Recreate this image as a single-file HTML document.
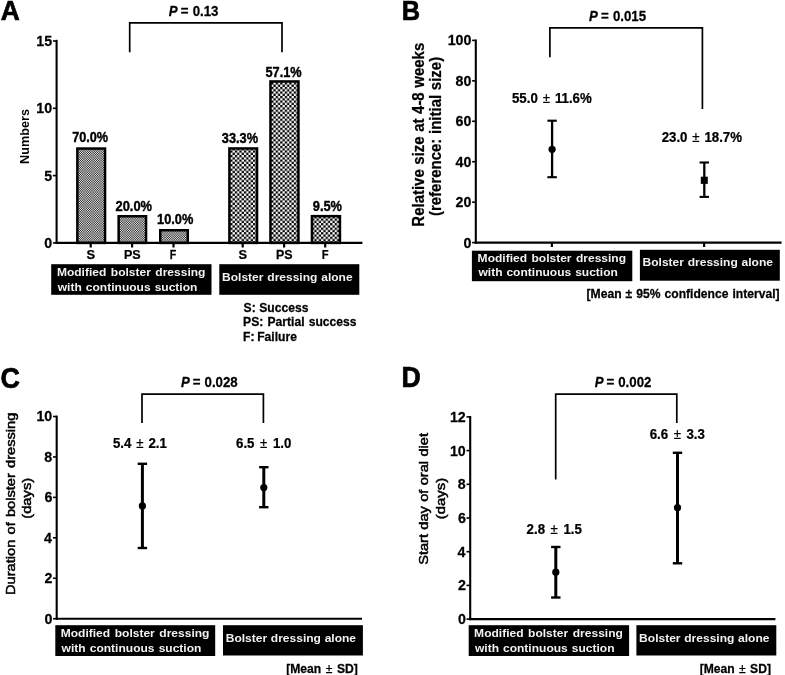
<!DOCTYPE html>
<html><head><meta charset="utf-8"><title>Figure</title>
<style>
html,body{margin:0;padding:0;background:#fff;}
body{width:785px;height:675px;overflow:hidden;font-family:"Liberation Sans",sans-serif;}
svg{display:block;will-change:transform;}
svg text{font-family:"Liberation Sans",sans-serif;font-weight:bold;white-space:pre;}
</style></head><body>
<svg width="785" height="675" viewBox="0 0 785 675">
<defs>
<pattern id="pa" width="16" height="7" patternUnits="userSpaceOnUse" shape-rendering="crispEdges"><rect width="16" height="7" fill="#888"/><rect x="0" y="0" width="1" height="1" fill="#e0e0e0"/><rect x="1" y="0" width="1" height="1" fill="#383838"/><rect x="2" y="0" width="1" height="1" fill="#cbcbcb"/><rect x="3" y="0" width="1" height="1" fill="#636363"/><rect x="4" y="0" width="1" height="1" fill="#919191"/><rect x="5" y="0" width="1" height="1" fill="#a5a5a5"/><rect x="6" y="0" width="1" height="1" fill="#525252"/><rect x="7" y="0" width="1" height="1" fill="#d6d6d6"/><rect x="8" y="0" width="1" height="1" fill="#343434"/><rect x="9" y="0" width="1" height="1" fill="#dcdcdc"/><rect x="10" y="0" width="1" height="1" fill="#494949"/><rect x="11" y="0" width="1" height="1" fill="#b1b1b1"/><rect x="12" y="0" width="1" height="1" fill="#838383"/><rect x="13" y="0" width="1" height="1" fill="#6f6f6f"/><rect x="14" y="0" width="1" height="1" fill="#c2c2c2"/><rect x="15" y="0" width="1" height="1" fill="#3e3e3e"/><rect x="0" y="1" width="1" height="1" fill="#535353"/><rect x="1" y="1" width="1" height="1" fill="#bebebe"/><rect x="2" y="1" width="1" height="1" fill="#606060"/><rect x="3" y="1" width="1" height="1" fill="#a3a3a3"/><rect x="4" y="1" width="1" height="1" fill="#868686"/><rect x="5" y="1" width="1" height="1" fill="#797979"/><rect x="6" y="1" width="1" height="1" fill="#aeaeae"/><rect x="7" y="1" width="1" height="1" fill="#595959"/><rect x="8" y="1" width="1" height="1" fill="#c1c1c1"/><rect x="9" y="1" width="1" height="1" fill="#565656"/><rect x="10" y="1" width="1" height="1" fill="#b4b4b4"/><rect x="11" y="1" width="1" height="1" fill="#717171"/><rect x="12" y="1" width="1" height="1" fill="#8e8e8e"/><rect x="13" y="1" width="1" height="1" fill="#9b9b9b"/><rect x="14" y="1" width="1" height="1" fill="#666666"/><rect x="15" y="1" width="1" height="1" fill="#bbbbbb"/><rect x="0" y="2" width="1" height="1" fill="#979797"/><rect x="1" y="2" width="1" height="1" fill="#7d7d7d"/><rect x="2" y="2" width="1" height="1" fill="#949494"/><rect x="3" y="2" width="1" height="1" fill="#848484"/><rect x="4" y="2" width="1" height="1" fill="#8b8b8b"/><rect x="5" y="2" width="1" height="1" fill="#8e8e8e"/><rect x="6" y="2" width="1" height="1" fill="#818181"/><rect x="7" y="2" width="1" height="1" fill="#969696"/><rect x="8" y="2" width="1" height="1" fill="#7d7d7d"/><rect x="9" y="2" width="1" height="1" fill="#979797"/><rect x="10" y="2" width="1" height="1" fill="#808080"/><rect x="11" y="2" width="1" height="1" fill="#909090"/><rect x="12" y="2" width="1" height="1" fill="#898989"/><rect x="13" y="2" width="1" height="1" fill="#868686"/><rect x="14" y="2" width="1" height="1" fill="#939393"/><rect x="15" y="2" width="1" height="1" fill="#7e7e7e"/><rect x="0" y="3" width="1" height="1" fill="#a9a9a9"/><rect x="1" y="3" width="1" height="1" fill="#6d6d6d"/><rect x="2" y="3" width="1" height="1" fill="#a1a1a1"/><rect x="3" y="3" width="1" height="1" fill="#7c7c7c"/><rect x="4" y="3" width="1" height="1" fill="#8c8c8c"/><rect x="5" y="3" width="1" height="1" fill="#949494"/><rect x="6" y="3" width="1" height="1" fill="#767676"/><rect x="7" y="3" width="1" height="1" fill="#a6a6a6"/><rect x="8" y="3" width="1" height="1" fill="#6b6b6b"/><rect x="9" y="3" width="1" height="1" fill="#a7a7a7"/><rect x="10" y="3" width="1" height="1" fill="#737373"/><rect x="11" y="3" width="1" height="1" fill="#989898"/><rect x="12" y="3" width="1" height="1" fill="#888888"/><rect x="13" y="3" width="1" height="1" fill="#808080"/><rect x="14" y="3" width="1" height="1" fill="#9e9e9e"/><rect x="15" y="3" width="1" height="1" fill="#6e6e6e"/><rect x="0" y="4" width="1" height="1" fill="#454545"/><rect x="1" y="4" width="1" height="1" fill="#cccccc"/><rect x="2" y="4" width="1" height="1" fill="#555555"/><rect x="3" y="4" width="1" height="1" fill="#a9a9a9"/><rect x="4" y="4" width="1" height="1" fill="#858585"/><rect x="5" y="4" width="1" height="1" fill="#757575"/><rect x="6" y="4" width="1" height="1" fill="#b7b7b7"/><rect x="7" y="4" width="1" height="1" fill="#4c4c4c"/><rect x="8" y="4" width="1" height="1" fill="#cfcfcf"/><rect x="9" y="4" width="1" height="1" fill="#484848"/><rect x="10" y="4" width="1" height="1" fill="#bfbfbf"/><rect x="11" y="4" width="1" height="1" fill="#6b6b6b"/><rect x="12" y="4" width="1" height="1" fill="#8f8f8f"/><rect x="13" y="4" width="1" height="1" fill="#9f9f9f"/><rect x="14" y="4" width="1" height="1" fill="#5d5d5d"/><rect x="15" y="4" width="1" height="1" fill="#c8c8c8"/><rect x="0" y="5" width="1" height="1" fill="#e7e7e7"/><rect x="1" y="5" width="1" height="1" fill="#313131"/><rect x="2" y="5" width="1" height="1" fill="#d1d1d1"/><rect x="3" y="5" width="1" height="1" fill="#5f5f5f"/><rect x="4" y="5" width="1" height="1" fill="#919191"/><rect x="5" y="5" width="1" height="1" fill="#a7a7a7"/><rect x="6" y="5" width="1" height="1" fill="#4d4d4d"/><rect x="7" y="5" width="1" height="1" fill="#dddddd"/><rect x="8" y="5" width="1" height="1" fill="#2d2d2d"/><rect x="9" y="5" width="1" height="1" fill="#e3e3e3"/><rect x="10" y="5" width="1" height="1" fill="#434343"/><rect x="11" y="5" width="1" height="1" fill="#b5b5b5"/><rect x="12" y="5" width="1" height="1" fill="#838383"/><rect x="13" y="5" width="1" height="1" fill="#6d6d6d"/><rect x="14" y="5" width="1" height="1" fill="#c7c7c7"/><rect x="15" y="5" width="1" height="1" fill="#373737"/><rect x="0" y="6" width="1" height="1" fill="#272727"/><rect x="1" y="6" width="1" height="1" fill="#e9e9e9"/><rect x="2" y="6" width="1" height="1" fill="#3e3e3e"/><rect x="3" y="6" width="1" height="1" fill="#b7b7b7"/><rect x="4" y="6" width="1" height="1" fill="#828282"/><rect x="5" y="6" width="1" height="1" fill="#6b6b6b"/><rect x="6" y="6" width="1" height="1" fill="#cbcbcb"/><rect x="7" y="6" width="1" height="1" fill="#313131"/><rect x="8" y="6" width="1" height="1" fill="#ededed"/><rect x="9" y="6" width="1" height="1" fill="#2b2b2b"/><rect x="10" y="6" width="1" height="1" fill="#d6d6d6"/><rect x="11" y="6" width="1" height="1" fill="#5d5d5d"/><rect x="12" y="6" width="1" height="1" fill="#929292"/><rect x="13" y="6" width="1" height="1" fill="#a9a9a9"/><rect x="14" y="6" width="1" height="1" fill="#494949"/><rect x="15" y="6" width="1" height="1" fill="#e3e3e3"/></pattern>
<pattern id="pb" width="4.54" height="4.54" patternUnits="userSpaceOnUse" patternTransform="translate(3.29,0.62)"><rect width="4.54" height="4.54" fill="#fff"/><rect x="0" y="0" width="2.27" height="2.27" fill="#000"/><rect x="2.27" y="2.27" width="2.27" height="2.27" fill="#000"/></pattern>
</defs>
<rect width="785" height="675" fill="#fff"/>
<rect x="77.35" y="148.55" width="27.70" height="94.35" fill="url(#pa)" stroke="#000" stroke-width="2.5"/>
<line x1="90.70" y1="242.90" x2="90.70" y2="247.50" stroke="#000" stroke-width="2.2" stroke-linecap="butt"/>
<rect x="118.65" y="216.25" width="27.40" height="26.65" fill="url(#pa)" stroke="#000" stroke-width="2.5"/>
<line x1="132.10" y1="242.90" x2="132.10" y2="247.50" stroke="#000" stroke-width="2.2" stroke-linecap="butt"/>
<rect x="160.25" y="230.25" width="27.50" height="12.65" fill="url(#pa)" stroke="#000" stroke-width="2.5"/>
<line x1="173.50" y1="242.90" x2="173.50" y2="247.50" stroke="#000" stroke-width="2.2" stroke-linecap="butt"/>
<rect x="229.40" y="148.45" width="27.65" height="94.45" fill="url(#pb)" stroke="#000" stroke-width="2.5"/>
<line x1="242.70" y1="242.90" x2="242.70" y2="247.50" stroke="#000" stroke-width="2.2" stroke-linecap="butt"/>
<rect x="270.45" y="81.45" width="28.00" height="161.45" fill="url(#pb)" stroke="#000" stroke-width="2.5"/>
<line x1="284.10" y1="242.90" x2="284.10" y2="247.50" stroke="#000" stroke-width="2.2" stroke-linecap="butt"/>
<rect x="311.95" y="216.15" width="28.00" height="26.75" fill="url(#pb)" stroke="#000" stroke-width="2.5"/>
<line x1="325.20" y1="242.90" x2="325.20" y2="247.50" stroke="#000" stroke-width="2.2" stroke-linecap="butt"/>
<line x1="56.60" y1="39.80" x2="56.60" y2="243.95" stroke="#000" stroke-width="2.1" stroke-linecap="butt"/>
<line x1="55.55" y1="242.90" x2="362.40" y2="242.90" stroke="#000" stroke-width="2.1" stroke-linecap="butt"/>
<line x1="52.90" y1="242.90" x2="56.60" y2="242.90" stroke="#000" stroke-width="1.6" stroke-linecap="butt"/>
<line x1="52.90" y1="175.60" x2="56.60" y2="175.60" stroke="#000" stroke-width="1.6" stroke-linecap="butt"/>
<line x1="52.90" y1="108.30" x2="56.60" y2="108.30" stroke="#000" stroke-width="1.6" stroke-linecap="butt"/>
<line x1="52.90" y1="41.00" x2="56.60" y2="41.00" stroke="#000" stroke-width="1.6" stroke-linecap="butt"/>
<path d="M129.7,52.3 V22.9 H282.0 V52.3" fill="none" stroke="#000" stroke-width="1.7"/>
<rect x="51.2" y="264.2" width="160.30" height="30.60" fill="#000"/>
<rect x="219.3" y="264.2" width="140.00" height="30.60" fill="#000"/>
<line x1="475.80" y1="39.50" x2="475.80" y2="243.65" stroke="#000" stroke-width="2.1" stroke-linecap="butt"/>
<line x1="474.75" y1="242.60" x2="781.60" y2="242.60" stroke="#000" stroke-width="2.1" stroke-linecap="butt"/>
<line x1="472.10" y1="242.60" x2="475.80" y2="242.60" stroke="#000" stroke-width="1.6" stroke-linecap="butt"/>
<line x1="472.10" y1="202.16" x2="475.80" y2="202.16" stroke="#000" stroke-width="1.6" stroke-linecap="butt"/>
<line x1="472.10" y1="161.72" x2="475.80" y2="161.72" stroke="#000" stroke-width="1.6" stroke-linecap="butt"/>
<line x1="472.10" y1="121.28" x2="475.80" y2="121.28" stroke="#000" stroke-width="1.6" stroke-linecap="butt"/>
<line x1="472.10" y1="80.84" x2="475.80" y2="80.84" stroke="#000" stroke-width="1.6" stroke-linecap="butt"/>
<line x1="472.10" y1="40.40" x2="475.80" y2="40.40" stroke="#000" stroke-width="1.6" stroke-linecap="butt"/>
<line x1="551.90" y1="242.60" x2="551.90" y2="247.00" stroke="#000" stroke-width="2.2" stroke-linecap="butt"/>
<line x1="704.10" y1="242.60" x2="704.10" y2="247.00" stroke="#000" stroke-width="2.2" stroke-linecap="butt"/>
<line x1="552.10" y1="120.70" x2="552.10" y2="177.20" stroke="#000" stroke-width="2.3" stroke-linecap="butt"/>
<line x1="547.40" y1="120.70" x2="556.80" y2="120.70" stroke="#000" stroke-width="2.1" stroke-linecap="butt"/>
<line x1="547.40" y1="177.20" x2="556.80" y2="177.20" stroke="#000" stroke-width="2.1" stroke-linecap="butt"/>
<circle cx="552.1" cy="149.3" r="3.6" fill="#000"/>
<line x1="704.30" y1="162.50" x2="704.30" y2="196.90" stroke="#000" stroke-width="2.3" stroke-linecap="butt"/>
<line x1="699.60" y1="162.50" x2="709.00" y2="162.50" stroke="#000" stroke-width="2.1" stroke-linecap="butt"/>
<line x1="699.60" y1="196.90" x2="709.00" y2="196.90" stroke="#000" stroke-width="2.1" stroke-linecap="butt"/>
<rect x="700.8" y="176.70000000000002" width="7.0" height="7.2" fill="#000"/>
<path d="M549.9,57.3 V27.9 H702.4 V109" fill="none" stroke="#000" stroke-width="1.7"/>
<rect x="471.9" y="250.7" width="160.40" height="30.50" fill="#000"/>
<rect x="639.9" y="249.8" width="139.90" height="30.90" fill="#000"/>
<line x1="56.70" y1="415.60" x2="56.70" y2="619.75" stroke="#000" stroke-width="2.1" stroke-linecap="butt"/>
<line x1="55.65" y1="618.70" x2="362.00" y2="618.70" stroke="#000" stroke-width="2.1" stroke-linecap="butt"/>
<line x1="53.00" y1="618.70" x2="56.70" y2="618.70" stroke="#000" stroke-width="1.6" stroke-linecap="butt"/>
<line x1="53.00" y1="578.26" x2="56.70" y2="578.26" stroke="#000" stroke-width="1.6" stroke-linecap="butt"/>
<line x1="53.00" y1="537.82" x2="56.70" y2="537.82" stroke="#000" stroke-width="1.6" stroke-linecap="butt"/>
<line x1="53.00" y1="497.38" x2="56.70" y2="497.38" stroke="#000" stroke-width="1.6" stroke-linecap="butt"/>
<line x1="53.00" y1="456.94" x2="56.70" y2="456.94" stroke="#000" stroke-width="1.6" stroke-linecap="butt"/>
<line x1="53.00" y1="416.50" x2="56.70" y2="416.50" stroke="#000" stroke-width="1.6" stroke-linecap="butt"/>
<line x1="142.40" y1="463.80" x2="142.40" y2="548.00" stroke="#000" stroke-width="3.0" stroke-linecap="butt"/>
<line x1="137.70" y1="463.80" x2="147.10" y2="463.80" stroke="#000" stroke-width="2.4" stroke-linecap="butt"/>
<line x1="137.70" y1="548.00" x2="147.10" y2="548.00" stroke="#000" stroke-width="2.4" stroke-linecap="butt"/>
<circle cx="142.4" cy="505.9" r="3.6" fill="#000"/>
<line x1="263.80" y1="467.20" x2="263.80" y2="507.20" stroke="#000" stroke-width="3.0" stroke-linecap="butt"/>
<line x1="259.10" y1="467.20" x2="268.50" y2="467.20" stroke="#000" stroke-width="2.4" stroke-linecap="butt"/>
<line x1="259.10" y1="507.20" x2="268.50" y2="507.20" stroke="#000" stroke-width="2.4" stroke-linecap="butt"/>
<circle cx="263.8" cy="487.6" r="3.6" fill="#000"/>
<path d="M142.0,423.1 V394.2 H263.4 V423.0" fill="none" stroke="#000" stroke-width="1.7"/>
<rect x="55.3" y="625.2" width="159.90" height="30.80" fill="#000"/>
<rect x="223.0" y="625.2" width="139.90" height="30.30" fill="#000"/>
<line x1="470.20" y1="416.00" x2="470.20" y2="620.15" stroke="#000" stroke-width="2.1" stroke-linecap="butt"/>
<line x1="469.15" y1="619.10" x2="775.40" y2="619.10" stroke="#000" stroke-width="2.1" stroke-linecap="butt"/>
<line x1="466.50" y1="619.10" x2="470.20" y2="619.10" stroke="#000" stroke-width="1.6" stroke-linecap="butt"/>
<line x1="466.50" y1="585.40" x2="470.20" y2="585.40" stroke="#000" stroke-width="1.6" stroke-linecap="butt"/>
<line x1="466.50" y1="551.70" x2="470.20" y2="551.70" stroke="#000" stroke-width="1.6" stroke-linecap="butt"/>
<line x1="466.50" y1="518.00" x2="470.20" y2="518.00" stroke="#000" stroke-width="1.6" stroke-linecap="butt"/>
<line x1="466.50" y1="484.30" x2="470.20" y2="484.30" stroke="#000" stroke-width="1.6" stroke-linecap="butt"/>
<line x1="466.50" y1="450.60" x2="470.20" y2="450.60" stroke="#000" stroke-width="1.6" stroke-linecap="butt"/>
<line x1="466.50" y1="416.90" x2="470.20" y2="416.90" stroke="#000" stroke-width="1.6" stroke-linecap="butt"/>
<line x1="555.80" y1="547.00" x2="555.80" y2="597.50" stroke="#000" stroke-width="3.0" stroke-linecap="butt"/>
<line x1="551.10" y1="547.00" x2="560.50" y2="547.00" stroke="#000" stroke-width="2.4" stroke-linecap="butt"/>
<line x1="551.10" y1="597.50" x2="560.50" y2="597.50" stroke="#000" stroke-width="2.4" stroke-linecap="butt"/>
<circle cx="555.8" cy="572.2" r="3.6" fill="#000"/>
<line x1="677.50" y1="452.80" x2="677.50" y2="563.30" stroke="#000" stroke-width="3.0" stroke-linecap="butt"/>
<line x1="672.80" y1="452.80" x2="682.20" y2="452.80" stroke="#000" stroke-width="2.4" stroke-linecap="butt"/>
<line x1="672.80" y1="563.30" x2="682.20" y2="563.30" stroke="#000" stroke-width="2.4" stroke-linecap="butt"/>
<circle cx="677.5" cy="507.6" r="3.6" fill="#000"/>
<path d="M555.7,479.6 V394.2 H676.8 V423.0" fill="none" stroke="#000" stroke-width="1.7"/>
<rect x="468.7" y="625.2" width="160.40" height="30.80" fill="#000"/>
<rect x="636.4" y="625.2" width="139.90" height="30.30" fill="#000"/>
<text transform="translate(0.67,20.2) scale(0.9435,1)" font-size="27.9" fill="#000" stroke="#000" stroke-width="0.7">A</text>
<text transform="translate(72.19,142.2) scale(0.8919,1)" font-size="14.2" fill="#000" stroke="#000" stroke-width="0.4">70.0%</text>
<text transform="translate(86.48,258.7) scale(0.9767,1)" font-size="13.2" fill="#000" stroke="#000" stroke-width="0.25">S</text>
<text transform="translate(115.51,211.2) scale(0.9065,1)" font-size="14.2" fill="#000" stroke="#000" stroke-width="0.4">20.0%</text>
<text transform="translate(123.99,258.7) scale(0.9470,1)" font-size="13.2" fill="#000" stroke="#000" stroke-width="0.25">PS</text>
<text transform="translate(157.03,224.1) scale(0.9010,1)" font-size="14.2" fill="#000" stroke="#000" stroke-width="0.4">10.0%</text>
<text transform="translate(169.71,258.7) scale(0.8021,1)" font-size="13.2" fill="#000" stroke="#000" stroke-width="0.25">F</text>
<text transform="translate(221.84,143.1) scale(0.9007,1)" font-size="14.2" fill="#000" stroke="#000" stroke-width="0.4">33.3%</text>
<text transform="translate(238.58,258.7) scale(0.9704,1)" font-size="13.2" fill="#000" stroke="#000" stroke-width="0.25">S</text>
<text transform="translate(265.52,76.5) scale(0.8989,1)" font-size="14.2" fill="#000" stroke="#000" stroke-width="0.4">57.1%</text>
<text transform="translate(276.09,258.7) scale(0.9408,1)" font-size="13.2" fill="#000" stroke="#000" stroke-width="0.25">PS</text>
<text transform="translate(312.82,210.9) scale(0.9020,1)" font-size="14.2" fill="#000" stroke="#000" stroke-width="0.4">9.5%</text>
<text transform="translate(321.87,258.7) scale(0.8467,1)" font-size="13.2" fill="#000" stroke="#000" stroke-width="0.25">F</text>
<text transform="translate(44.29,247.8) scale(0.9500,1)" font-size="15" fill="#000" stroke="#000" stroke-width="0.25">0</text>
<text transform="translate(44.15,180.5) scale(0.9500,1)" font-size="15" fill="#000" stroke="#000" stroke-width="0.25">5</text>
<text transform="translate(36.36,113.19999999999999) scale(0.9500,1)" font-size="15" fill="#000" stroke="#000" stroke-width="0.25">10</text>
<text transform="translate(36.22,45.9) scale(0.9500,1)" font-size="15" fill="#000" stroke="#000" stroke-width="0.25">15</text>
<text transform="translate(28.9,163.92) rotate(-90) scale(1.0068,1)" font-size="12.6" fill="#000">Numbers</text>
<text transform="translate(167.54,16.3) scale(0.9350,1)" font-size="14.2" fill="#000" stroke="#000" stroke-width="0.25" style="word-spacing:0.60px;"><tspan font-style="italic" dx="1.2">P</tspan><tspan dx="-1.2"> = 0.13</tspan></text>
<text transform="translate(56.92,276.2) scale(1.0200,1)" font-size="11.8" fill="#f2f2f2" style="word-spacing:1.09px;">Modified bolster dressing</text>
<text transform="translate(57.76,290.79999999999995) scale(1.0200,1)" font-size="11.8" fill="#f2f2f2" style="word-spacing:0.67px;">with continuous suction</text>
<text transform="translate(222.02,281.1) scale(1.0200,1)" font-size="11.8" fill="#f2f2f2" style="word-spacing:0.49px;">Bolster dressing alone</text>
<text transform="translate(243.60,311.5) scale(0.9950,1)" font-size="12.2" fill="#000" stroke="#000" stroke-width="0.25" style="word-spacing:0.16px;">S: Success</text>
<text transform="translate(243.11,326.2) scale(0.9950,1)" font-size="12.2" fill="#000" stroke="#000" stroke-width="0.25" style="word-spacing:0.76px;">PS: Partial success</text>
<text transform="translate(243.11,340.9) scale(0.9950,1)" font-size="12.2" fill="#000" stroke="#000" stroke-width="0.25" style="word-spacing:-0.77px;">F: Failure</text>
<text transform="translate(401.85,20.2) scale(0.9092,1)" font-size="27.9" fill="#000" stroke="#000" stroke-width="0.7">B</text>
<text transform="translate(463.49,247.5) scale(0.9500,1)" font-size="15" fill="#000" stroke="#000" stroke-width="0.25">0</text>
<text transform="translate(455.56,207.06) scale(0.9500,1)" font-size="15" fill="#000" stroke="#000" stroke-width="0.25">20</text>
<text transform="translate(455.56,166.62) scale(0.9500,1)" font-size="15" fill="#000" stroke="#000" stroke-width="0.25">40</text>
<text transform="translate(455.56,126.18) scale(0.9500,1)" font-size="15" fill="#000" stroke="#000" stroke-width="0.25">60</text>
<text transform="translate(455.56,85.74000000000001) scale(0.9500,1)" font-size="15" fill="#000" stroke="#000" stroke-width="0.25">80</text>
<text transform="translate(447.64,45.300000000000004) scale(0.9500,1)" font-size="15" fill="#000" stroke="#000" stroke-width="0.25">100</text>
<text transform="translate(423.6,226.67) rotate(-90) scale(0.9250,1)" font-size="16.2" fill="#000" stroke="#000" stroke-width="0.25" style="word-spacing:0.43px;">Relative size at 4-8 weeks</text>
<text transform="translate(440.7,216.07) rotate(-90) scale(0.9250,1)" font-size="16.2" fill="#000" stroke="#000" stroke-width="0.25" style="word-spacing:0.58px;">(reference: initial size)</text>
<text transform="translate(587.94,21.1) scale(0.9350,1)" font-size="14.2" fill="#000" stroke="#000" stroke-width="0.25" style="word-spacing:0.53px;"><tspan font-style="italic" dx="1.2">P</tspan><tspan dx="-1.2"> = 0.015</tspan></text>
<text transform="translate(512.00,103.1) scale(0.9340,1)" font-size="14.2" fill="#000" stroke="#000" stroke-width="0.25" style="word-spacing:1.33px;">55.0 <tspan style="font-weight:normal">±</tspan> 11.6%</text>
<text transform="translate(661.70,141.9) scale(0.9340,1)" font-size="14.2" fill="#000" stroke="#000" stroke-width="0.25" style="word-spacing:1.26px;">23.0 <tspan style="font-weight:normal">±</tspan> 18.7%</text>
<text transform="translate(477.62,262.1) scale(1.0200,1)" font-size="11.8" fill="#f2f2f2" style="word-spacing:1.04px;">Modified bolster dressing</text>
<text transform="translate(478.46,276.4) scale(1.0200,1)" font-size="11.8" fill="#f2f2f2" style="word-spacing:0.57px;">with continuous suction</text>
<text transform="translate(642.52,266.40000000000003) scale(1.0200,1)" font-size="11.8" fill="#f2f2f2" style="word-spacing:0.39px;">Bolster dressing alone</text>
<text transform="translate(586.53,298.3) scale(0.9950,1)" font-size="12.2" fill="#000" stroke="#000" stroke-width="0.25" style="word-spacing:0.63px;">[Mean ± 95% confidence interval]</text>
<text transform="translate(0.43,387.7) scale(0.9171,1)" font-size="29.3" fill="#000" stroke="#000" stroke-width="0.7">C</text>
<text transform="translate(44.39,623.6) scale(0.9500,1)" font-size="15" fill="#000" stroke="#000" stroke-width="0.25">0</text>
<text transform="translate(44.39,583.16) scale(0.9500,1)" font-size="15" fill="#000" stroke="#000" stroke-width="0.25">2</text>
<text transform="translate(43.89,542.72) scale(0.9500,1)" font-size="15" fill="#000" stroke="#000" stroke-width="0.25">4</text>
<text transform="translate(44.39,502.28) scale(0.9500,1)" font-size="15" fill="#000" stroke="#000" stroke-width="0.25">6</text>
<text transform="translate(44.25,461.84) scale(0.9500,1)" font-size="15" fill="#000" stroke="#000" stroke-width="0.25">8</text>
<text transform="translate(36.46,421.4) scale(0.9500,1)" font-size="15" fill="#000" stroke="#000" stroke-width="0.25">10</text>
<text transform="translate(14.7,594.97) rotate(-90) scale(1.1250,1)" font-size="13.0" fill="#000" stroke="#000" stroke-width="0.5" style="font-weight:normal;word-spacing:1.04px;">Duration of bolster dressing</text>
<text transform="translate(31.3,518.79) rotate(-90) scale(1.1364,1)" font-size="13.0" fill="#000" stroke="#000" stroke-width="0.5" style="font-weight:normal;">(days)</text>
<text transform="translate(179.84,387.1) scale(0.9350,1)" font-size="14.2" fill="#000" stroke="#000" stroke-width="0.25" style="word-spacing:0.37px;"><tspan font-style="italic" dx="1.2">P</tspan><tspan dx="-1.2"> = 0.028</tspan></text>
<text transform="translate(113.00,447.5) scale(0.9340,1)" font-size="14.2" fill="#000" stroke="#000" stroke-width="0.25" style="word-spacing:1.27px;">5.4 <tspan style="font-weight:normal">±</tspan> 2.1</text>
<text transform="translate(236.04,447.5) scale(0.9340,1)" font-size="14.2" fill="#000" stroke="#000" stroke-width="0.25" style="word-spacing:2.05px;">6.5 <tspan style="font-weight:normal">±</tspan> 1.0</text>
<text transform="translate(60.72,637.2) scale(1.0200,1)" font-size="11.8" fill="#f2f2f2" style="word-spacing:1.19px;">Modified bolster dressing</text>
<text transform="translate(61.56,651.9) scale(1.0200,1)" font-size="11.8" fill="#f2f2f2" style="word-spacing:0.77px;">with continuous suction</text>
<text transform="translate(225.72,642.0999999999999) scale(1.0200,1)" font-size="11.8" fill="#f2f2f2" style="word-spacing:0.34px;">Bolster dressing alone</text>
<text transform="translate(286.23,672.8) scale(0.9950,1)" font-size="12.2" fill="#000" stroke="#000" stroke-width="0.25" style="word-spacing:1.12px;">[Mean <tspan style="font-weight:normal">±</tspan> SD]</text>
<text transform="translate(401.57,387.2) scale(0.9305,1)" font-size="28.6" fill="#000" stroke="#000" stroke-width="0.7">D</text>
<text transform="translate(457.89,624.0) scale(0.9500,1)" font-size="15" fill="#000" stroke="#000" stroke-width="0.25">0</text>
<text transform="translate(457.89,590.3) scale(0.9500,1)" font-size="15" fill="#000" stroke="#000" stroke-width="0.25">2</text>
<text transform="translate(457.39,556.6) scale(0.9500,1)" font-size="15" fill="#000" stroke="#000" stroke-width="0.25">4</text>
<text transform="translate(457.89,522.9) scale(0.9500,1)" font-size="15" fill="#000" stroke="#000" stroke-width="0.25">6</text>
<text transform="translate(457.75,489.19999999999993) scale(0.9500,1)" font-size="15" fill="#000" stroke="#000" stroke-width="0.25">8</text>
<text transform="translate(449.96,455.49999999999994) scale(0.9500,1)" font-size="15" fill="#000" stroke="#000" stroke-width="0.25">10</text>
<text transform="translate(449.96,421.79999999999995) scale(0.9500,1)" font-size="15" fill="#000" stroke="#000" stroke-width="0.25">12</text>
<text transform="translate(428.2,564.86) rotate(-90) scale(1.1250,1)" font-size="13.0" fill="#000" stroke="#000" stroke-width="0.5" style="font-weight:normal;word-spacing:0.23px;">Start day of oral diet</text>
<text transform="translate(444.8,519.19) rotate(-90) scale(1.1450,1)" font-size="13.0" fill="#000" stroke="#000" stroke-width="0.5" style="font-weight:normal;">(days)</text>
<text transform="translate(593.74,387.1) scale(0.9350,1)" font-size="14.2" fill="#000" stroke="#000" stroke-width="0.25" style="word-spacing:0.28px;"><tspan font-style="italic" dx="1.2">P</tspan><tspan dx="-1.2"> = 0.002</tspan></text>
<text transform="translate(526.60,533.5) scale(0.9340,1)" font-size="14.2" fill="#000" stroke="#000" stroke-width="0.25" style="word-spacing:2.05px;">2.8 <tspan style="font-weight:normal">±</tspan> 1.5</text>
<text transform="translate(649.74,438.6) scale(0.9340,1)" font-size="14.2" fill="#000" stroke="#000" stroke-width="0.25" style="word-spacing:1.99px;">6.6 <tspan style="font-weight:normal">±</tspan> 3.3</text>
<text transform="translate(474.12,637.2) scale(1.0200,1)" font-size="11.8" fill="#f2f2f2" style="word-spacing:1.19px;">Modified bolster dressing</text>
<text transform="translate(474.96,651.9) scale(1.0200,1)" font-size="11.8" fill="#f2f2f2" style="word-spacing:0.62px;">with continuous suction</text>
<text transform="translate(639.12,642.0999999999999) scale(1.0200,1)" font-size="11.8" fill="#f2f2f2" style="word-spacing:0.34px;">Bolster dressing alone</text>
<text transform="translate(699.73,672.8) scale(0.9950,1)" font-size="12.2" fill="#000" stroke="#000" stroke-width="0.25" style="word-spacing:0.97px;">[Mean <tspan style="font-weight:normal">±</tspan> SD]</text>
</svg>
</body></html>
